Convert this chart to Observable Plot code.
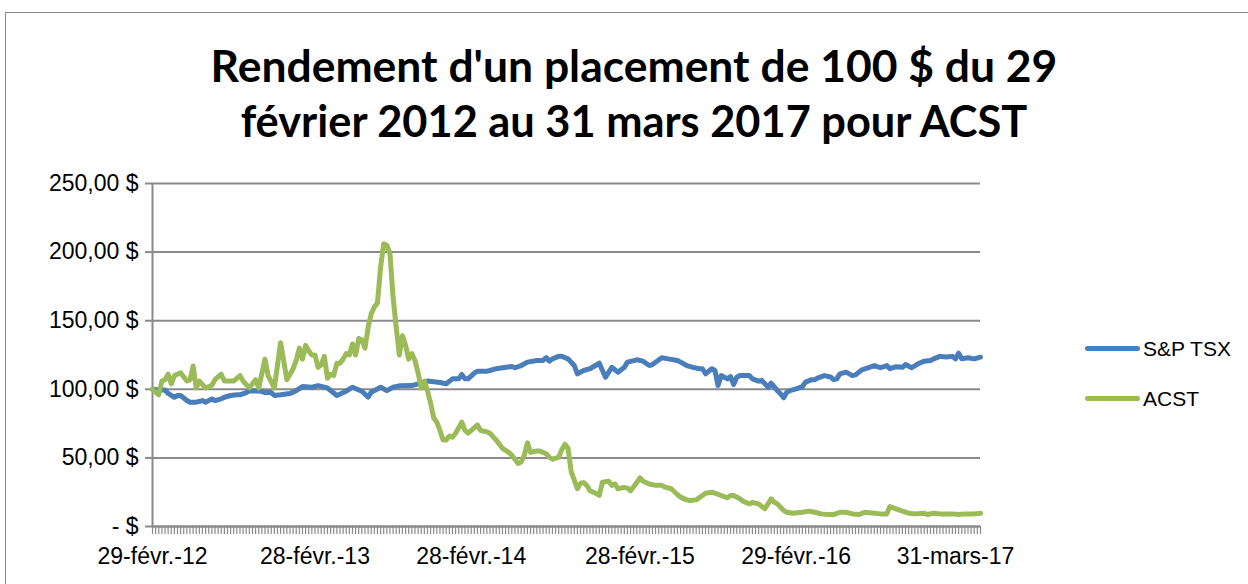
<!DOCTYPE html>
<html><head><meta charset="utf-8">
<script src="https://cdn.jsdelivr.net/npm/d3@7"></script>
<script src="https://cdn.jsdelivr.net/npm/@observablehq/plot@0.6"></script>
<style>
html,body{margin:0;padding:0;background:#fff;}
#wrap{position:relative;width:1248px;height:584px;overflow:hidden;background:#fff;}
#frame{position:absolute;left:5px;top:12px;width:1270px;height:620px;border:1.5px solid #8a8a8a;box-sizing:border-box;}
.title{position:absolute;left:10px;width:1248px;text-align:center;font-family:Lato,"Open Sans",sans-serif;font-weight:700;color:#000;white-space:nowrap;line-height:1;font-size:44px;}
.title span{display:inline-block;}
#chart{position:absolute;left:0;top:150px;}
.sw{position:absolute;left:1085px;width:55px;height:5px;border-radius:3px;}
.lt{position:absolute;left:1143px;font-family:"Liberation Sans",Arial,sans-serif;font-size:21px;line-height:24px;color:#000;white-space:nowrap;}
</style></head>
<body>
<div id="wrap">
  <div id="frame"></div>
  <div class="title" id="t1"><span>Rendement d'un placement de 100 $ du 29</span></div>
  <div class="title" id="t2"><span>février 2012 au 31 mars 2017 pour ACST</span></div>
  <div id="chart"></div>
  <div class="sw" style="top:346px;background:#4a7ebb"></div>
  <div class="lt" style="top:337px">S&amp;P TSX</div>
  <div class="sw" style="top:396px;background:#9bbb59"></div>
  <div class="lt" style="top:387px">ACST</div>
</div>
<script>
// ---- data (week index from 29 Feb 2012, value of 100 $ invested) ----
const seriesNames = ["S&P TSX", "ACST"];
const tsxWeeks = [0,2,4,5,7,8,9,11,12,14,16,17,19,20,22,23,25,27,28,30,31,33,35,36,38,39,41,44,46,48,51,53,56,59,62,64,67,69,70,73,75,77,79,83,85,88,92,94,96,98,99,100,101,103,104,107,108,110,112,115,116,118,120,123,125,126,127,128,130,131,133,135,136,138,140,143,144,145,147,149,151,152,155,157,159,160,163,165,168,169,171,173,175,176,177,179,180,181,182,184,185,186,187,188,191,192,194,195,197,198,200,201,202,203,204,206,208,209,211,212,213,215,217,218,219,220,222,224,225,227,229,231,233,235,236,238,240,241,243,245,247,249,250,252,254,256,257,258,259,261,263,265];
const tsxValues = [100,99.5,99.5,97,94.2,95.5,95.5,91.8,90.6,90.6,91.8,90.6,93,91.8,93,94.2,95.5,96,96,97.6,98.8,98.8,98.5,97.6,97.6,95.5,96,97,99,102,101.5,102.7,101,95.5,98.6,101.5,98.6,94.3,97.9,101.5,99,101.5,102.5,102.7,104,106,105,104,107.6,107.6,110.8,107.6,107.6,111.8,113.2,113.2,113.7,115,115.7,116.6,115.7,117.3,119.8,121,121,123,120.5,122.2,124,124,122.2,117.3,111.3,113.7,115,119,113.7,108.8,116,112.5,116,119.8,121.5,120.5,117.3,118,123,122.2,121,119.8,117.3,116,115,115,111.3,115,113.7,102.8,110,107.6,109.3,103.5,108.8,110,110,107.6,105.9,106.5,101.6,104.5,99,96.7,93.8,97.9,99,100.3,102,105.2,107,107,108.4,110,109,107,107.6,111.3,112.5,110,110.5,114.2,115.7,117.3,115.7,117.3,115,116.5,116,118,115.7,118.6,120.5,121,122.2,124,123.5,124,122.2,126.3,122.2,123,122.2,123.4];
const acstWeeks = [0,2,3,4,5,6,7,9,11,12,13,14,15,17,19,20,22,23,24,26,28,29,31,32,33,34,36,37,39,41,43,45,46,47,48,49,50,51,52,53,54,55,56,57,58,59,60,61,62,63,64,65,66,67,68,69,70,71,72,73,74,75,76,77,78,79,80,81,82,83,84,85,86,87,88,89,90,91,92,93,94,95,96,97,98,99,100,101,102,104,105,107,108,110,111,112,114,115,117,118,119,120,121,123,124,126,127,128,130,131,132,133,134,136,137,138,139,140,142,143,144,146,147,148,149,151,152,153,155,156,157,159,161,163,164,166,168,169,171,172,174,176,177,179,180,182,184,185,186,188,189,191,192,194,195,196,198,199,200,202,203,205,208,210,212,214,216,218,220,222,224,226,228,231,233,235,236,238,240,242,244,247,248,250,252,254,256,258,260,263,265];
const acstValues = [100,96,106,107,111,104,110,112,106,107,117,101,106,101,103,107,111,106,106,106,110,106,101,104,107,101,122,110,101,134,107,115,121,130,122,132,128,125,125,116,118,124,108,111,110,119,119,122,126,125,133,125,137,136,130,145,155,160,163,189,206,205,199,167,145,125,139,132,122,126,121,112,101,106,99,90,79,76,70,63,63,66,65,68,72,76,70,68,70,74,70,69,68,63,60,57,54,52,46,47,52,61,54,55,55,53,50.5,49,50.5,56,60,57,40,27.5,31.6,32,30,26,24,22.6,32.3,33,30,31,27.5,28.5,28,26,32,35.5,33,31,30,30,28.7,27.5,23.3,21.4,19.4,19,19.4,22.6,24.3,25,24.3,22.6,20.9,22.6,22.6,20.2,18.4,16.5,17.5,16.5,14.6,12.9,20.2,17.7,16.5,11.7,10.4,9.7,10.4,11.2,10.4,9.2,8.7,8.7,10.4,10.4,9.2,8.7,10.4,9.7,9.2,9.2,14.6,12.9,11.2,9.7,9.2,9.7,8.7,9.7,9.2,9.2,9.2,8.7,9.2,9.2,9.7];
const yTicks = [0, 50, 100, 150, 200, 250];
const xTickWeeks = [0, 52, 102, 156, 206, 257];
const xTickLabels = ["29-févr.-12", "28-févr.-13", "28-févr.-14", "28-févr.-15", "29-févr.-16", "31-mars-17"];
const totalWeeks = 265;

// ---- build tables ----
const tsx = tsxWeeks.map((w, i) => ({week: w, value: tsxValues[i], series: seriesNames[0]}));
const acst = acstWeeks.map((w, i) => ({week: w, value: acstValues[i], series: seriesNames[1]}));
const labelByWeek = new Map(xTickWeeks.map((w, i) => [w, xTickLabels[i]]));
const yFmt = v => v === 0 ? "- $" : v.toFixed(2).replace(".", ",") + " $";
const grey = "#8a8a8a";

const chart = Plot.plot({
  width: 1248, height: 434,
  marginTop: 33, marginBottom: 58, marginLeft: 152, marginRight: 268,
  x: {domain: [0, totalWeeks], axis: null},
  y: {domain: [0, 250], axis: null},
  style: {fontFamily: '"Liberation Sans", Arial, sans-serif', fontSize: "23px", color: "#000", background: "transparent", overflow: "visible"},
  marks: [
    Plot.gridY(yTicks, {stroke: grey, strokeOpacity: 1, strokeWidth: 2}),
    Plot.axisY(yTicks, {label: null, tickSize: 7, tickPadding: 7, tickFormat: yFmt, stroke: grey, strokeWidth: 2, fill: "#000", fontSize: 23}),
    Plot.axisX(d3.range(0, totalWeeks + 1), {label: null, tickSize: 8, tickFormat: () => "", stroke: grey, strokeWidth: 1.2, strokeOpacity: 1}),
    Plot.axisX(xTickWeeks, {label: null, tickSize: 0, tickPadding: 21, tickFormat: d => labelByWeek.get(d), fill: "#000", fontSize: 23}),
    Plot.ruleX([0], {stroke: grey, strokeWidth: 2}),
    Plot.ruleY([0], {stroke: grey, strokeWidth: 2}),
    Plot.line(tsx, {x: "week", y: "value", stroke: "#4a7ebb", strokeWidth: 5, strokeLinejoin: "round", strokeLinecap: "round"}),
    Plot.line(acst, {x: "week", y: "value", stroke: "#9bbb59", strokeWidth: 5, strokeLinejoin: "round", strokeLinecap: "round"})
  ]
});
document.getElementById("chart").appendChild(chart);

// ---- fit title lines ----
function fit(id, targetW, capCenter) {
  const el = document.getElementById(id);
  const span = el.querySelector("span");
  const fs = 44;
  const w = span.getBoundingClientRect().width;
  const nfs = fs * targetW / w;
  el.style.fontSize = nfs + "px";
  el.style.top = (capCenter - 0.53 * nfs) + "px";
}
fit("t1", 847, 67);
fit("t2", 787, 122);
</script>
</body></html>
